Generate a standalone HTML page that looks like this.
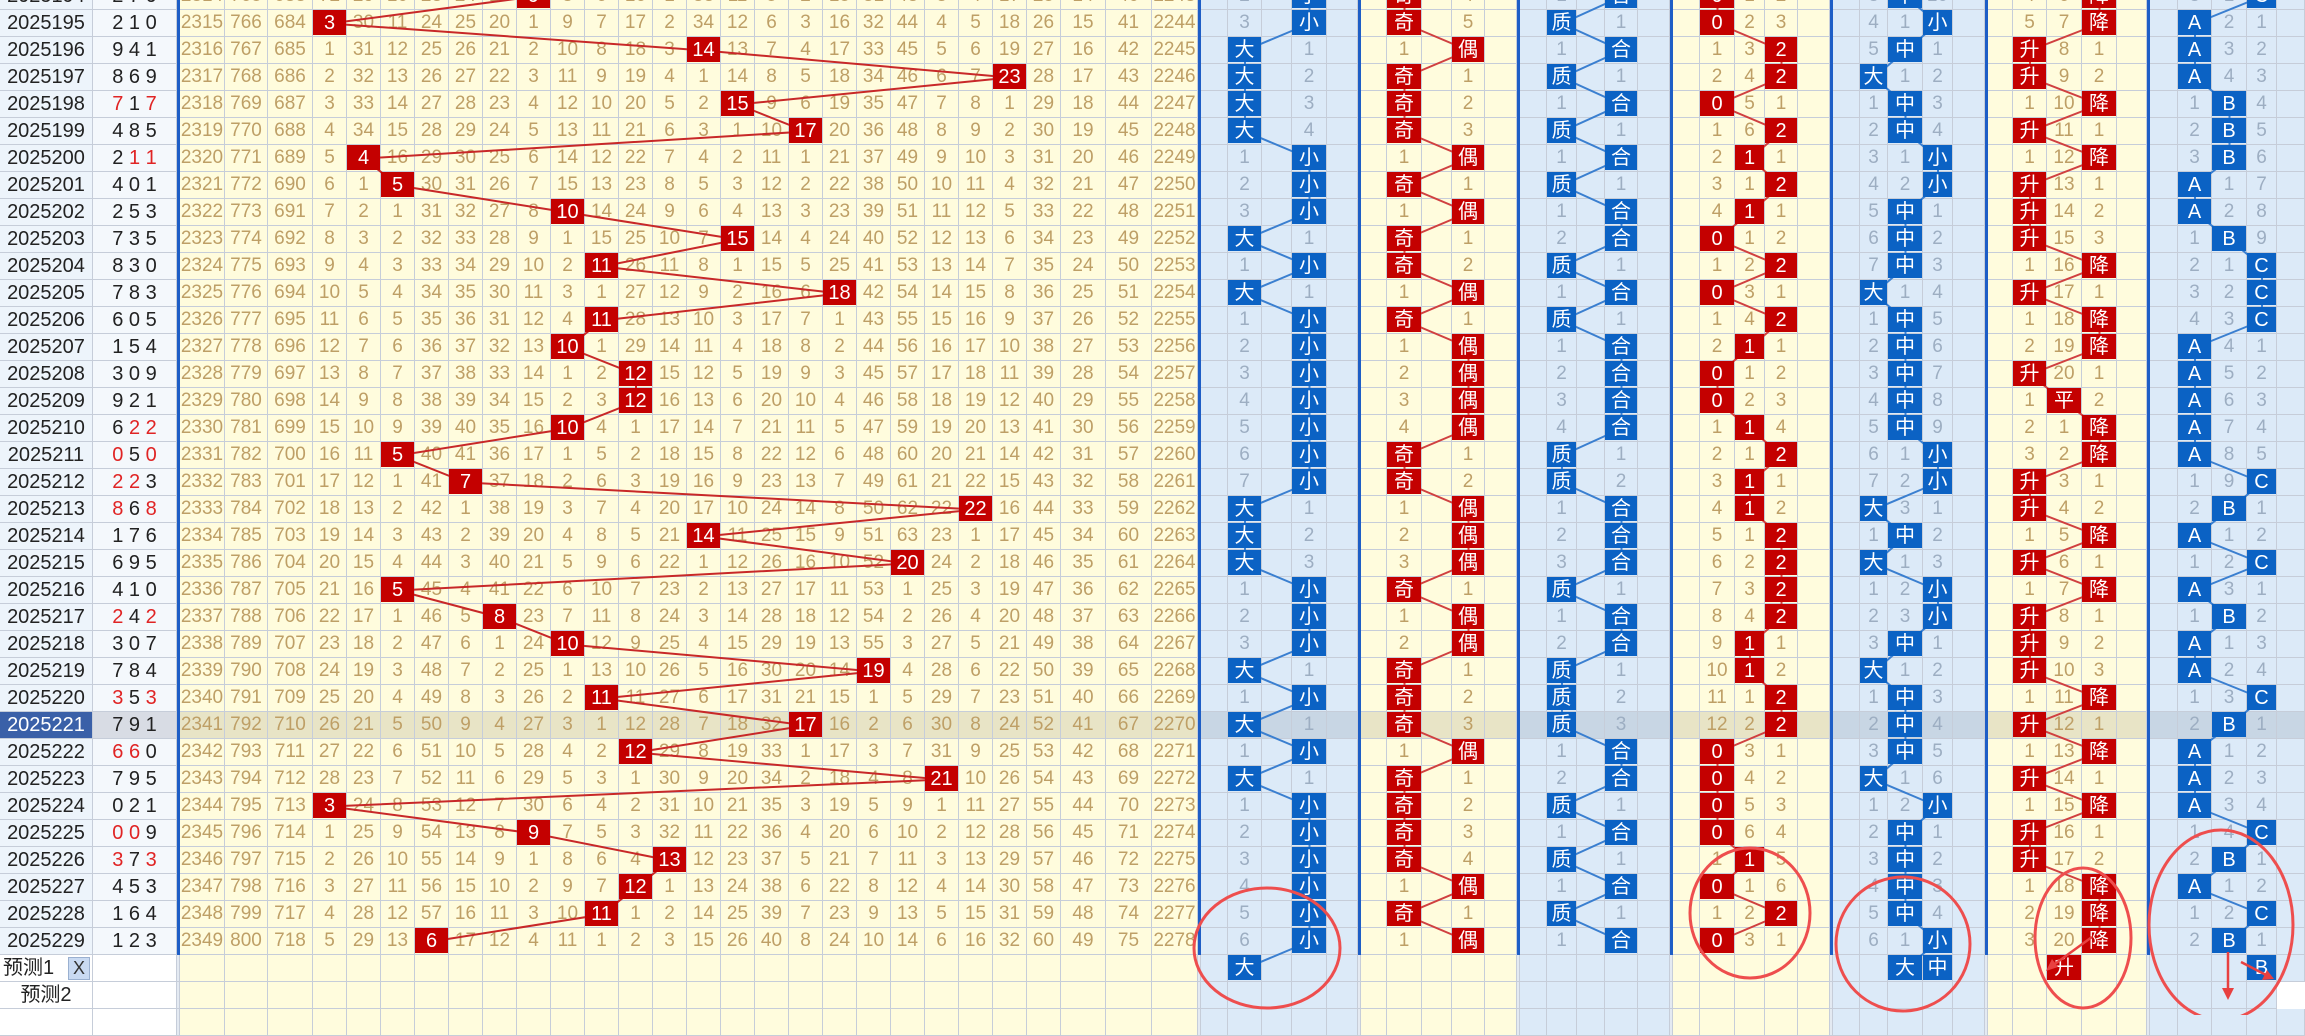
<!DOCTYPE html>
<html><head><meta charset="utf-8">
<style>
body{margin:0;width:2305px;height:1015px;overflow:hidden;position:relative;background:#fff;font-family:"Liberation Sans","Noto Sans CJK SC",sans-serif}
#g{position:absolute;left:0;top:-17px}
.r{display:grid;grid-template-columns:93px 84px 3px 45px 43px 45px repeat(22,34px) 45px 46px 46px 3px 27px 34px 30px 35px 31px 3px 26px 35px 30px 33px 32px 3px 27px 30px 28px 33px 32px 3px 27px 35px 30px 33px 32px 3px 27px 28px 35px 30px 32px 3px 25px 34px 35px 35px 30px 3px 28px 34px 35px 30px 28px;height:27px}
.r i{font-style:normal;box-sizing:border-box;border-right:1px solid #C6CDD9;border-bottom:1px solid #C6CDD9;text-align:center;line-height:26px;font-size:19px;color:#BE9F66;background:#FFFCDD;position:relative;white-space:nowrap}
.r i:nth-child(1){background:#EDF4FB;color:#222;font-size:20px}
.r i:nth-child(2){background:#F4F8FC;color:#222;font-size:20px}
.r i:nth-child(n+33):nth-child(-n+37),.r i:nth-child(n+45):nth-child(-n+49),.r i:nth-child(n+57):nth-child(-n+61),.r i:nth-child(n+69){background:#DCEAF8;color:#9DAEC2}
.hl i{background:#E8E4C6}
.hl i:nth-child(n+33):nth-child(-n+37),.hl i:nth-child(n+45):nth-child(-n+49),.hl i:nth-child(n+57):nth-child(-n+61),.hl i:nth-child(n+69){background:#C8D6E4}
.r.hl i:nth-child(1){background:#3A60A8;color:#fff}
.r.hl i:nth-child(2){background:#D8DCE4}
.r i:nth-child(3),.r i:nth-child(32),.r i:nth-child(38),.r i:nth-child(44),.r i:nth-child(50),.r i:nth-child(56),.r i:nth-child(62),.r i:nth-child(68){background:#1E5EC6;border:0}
.r.p i:nth-child(1),.r.p i:nth-child(2){background:#fff}
.r.p i:nth-child(3),.r.p i:nth-child(32),.r.p i:nth-child(38),.r.p i:nth-child(44),.r.p i:nth-child(50),.r.p i:nth-child(56),.r.p i:nth-child(62),.r.p i:nth-child(68){background:#E4EAF2;border-right:1px solid #C6CDD9;border-bottom:1px solid #C6CDD9}
b,em{position:absolute;left:0;top:0;right:0;bottom:1px;z-index:2;color:#fff;font-style:normal;font-weight:normal;font-size:20px;line-height:26px;text-align:center}
b{background:#C40000}
em{background:#0B62C4}
u{text-decoration:none;color:#E02424}
.x{position:absolute;left:68px;top:2px;width:20px;height:21px;background:#C9DAF2;border:1px solid #9AB0D0;line-height:20px;text-align:center;color:#333;font-size:18px}
svg{position:absolute;left:0;top:0}
</style></head><body>
<div id="g">
<div class=r><i>2025194</i><i>2 7 0</i><i></i><i>2314</i><i>765</i><i>683</i><i>72</i><i>29</i><i>10</i><i>23</i><i>24</i><i>19</i><i><b>9</b></i><i>8</i><i>6</i><i>16</i><i>1</i><i>33</i><i>11</i><i>5</i><i>2</i><i>15</i><i>31</i><i>43</i><i>3</i><i>4</i><i>17</i><i>25</i><i>14</i><i>40</i><i>2243</i><i></i><i></i><i>2</i><i></i><i><em>小</em></i><i></i><i></i><i></i><i><b>奇</b></i><i></i><i>4</i><i></i><i></i><i></i><i>1</i><i></i><i><em>合</em></i><i></i><i></i><i></i><i><b>0</b></i><i>1</i><i>2</i><i></i><i></i><i></i><i>3</i><i><em>中</em></i><i>10</i><i></i><i></i><i></i><i>4</i><i>6</i><i><b>降</b></i><i></i><i></i><i></i><i>3</i><i>1</i><i><em>C</em></i><i></i></div>
<div class=r><i>2025195</i><i>2 1 0</i><i></i><i>2315</i><i>766</i><i>684</i><i><b>3</b></i><i>30</i><i>11</i><i>24</i><i>25</i><i>20</i><i>1</i><i>9</i><i>7</i><i>17</i><i>2</i><i>34</i><i>12</i><i>6</i><i>3</i><i>16</i><i>32</i><i>44</i><i>4</i><i>5</i><i>18</i><i>26</i><i>15</i><i>41</i><i>2244</i><i></i><i></i><i>3</i><i></i><i><em>小</em></i><i></i><i></i><i></i><i><b>奇</b></i><i></i><i>5</i><i></i><i></i><i></i><i><em>质</em></i><i></i><i>1</i><i></i><i></i><i></i><i><b>0</b></i><i>2</i><i>3</i><i></i><i></i><i></i><i>4</i><i>1</i><i><em>小</em></i><i></i><i></i><i></i><i>5</i><i>7</i><i><b>降</b></i><i></i><i></i><i></i><i><em>A</em></i><i>2</i><i>1</i><i></i></div>
<div class=r><i>2025196</i><i>9 4 1</i><i></i><i>2316</i><i>767</i><i>685</i><i>1</i><i>31</i><i>12</i><i>25</i><i>26</i><i>21</i><i>2</i><i>10</i><i>8</i><i>18</i><i>3</i><i><b>14</b></i><i>13</i><i>7</i><i>4</i><i>17</i><i>33</i><i>45</i><i>5</i><i>6</i><i>19</i><i>27</i><i>16</i><i>42</i><i>2245</i><i></i><i></i><i><em>大</em></i><i></i><i>1</i><i></i><i></i><i></i><i>1</i><i></i><i><b>偶</b></i><i></i><i></i><i></i><i>1</i><i></i><i><em>合</em></i><i></i><i></i><i></i><i>1</i><i>3</i><i><b>2</b></i><i></i><i></i><i></i><i>5</i><i><em>中</em></i><i>1</i><i></i><i></i><i></i><i><b>升</b></i><i>8</i><i>1</i><i></i><i></i><i></i><i><em>A</em></i><i>3</i><i>2</i><i></i></div>
<div class=r><i>2025197</i><i>8 6 9</i><i></i><i>2317</i><i>768</i><i>686</i><i>2</i><i>32</i><i>13</i><i>26</i><i>27</i><i>22</i><i>3</i><i>11</i><i>9</i><i>19</i><i>4</i><i>1</i><i>14</i><i>8</i><i>5</i><i>18</i><i>34</i><i>46</i><i>6</i><i>7</i><i><b>23</b></i><i>28</i><i>17</i><i>43</i><i>2246</i><i></i><i></i><i><em>大</em></i><i></i><i>2</i><i></i><i></i><i></i><i><b>奇</b></i><i></i><i>1</i><i></i><i></i><i></i><i><em>质</em></i><i></i><i>1</i><i></i><i></i><i></i><i>2</i><i>4</i><i><b>2</b></i><i></i><i></i><i></i><i><em>大</em></i><i>1</i><i>2</i><i></i><i></i><i></i><i><b>升</b></i><i>9</i><i>2</i><i></i><i></i><i></i><i><em>A</em></i><i>4</i><i>3</i><i></i></div>
<div class=r><i>2025198</i><i><u>7</u> 1 <u>7</u></i><i></i><i>2318</i><i>769</i><i>687</i><i>3</i><i>33</i><i>14</i><i>27</i><i>28</i><i>23</i><i>4</i><i>12</i><i>10</i><i>20</i><i>5</i><i>2</i><i><b>15</b></i><i>9</i><i>6</i><i>19</i><i>35</i><i>47</i><i>7</i><i>8</i><i>1</i><i>29</i><i>18</i><i>44</i><i>2247</i><i></i><i></i><i><em>大</em></i><i></i><i>3</i><i></i><i></i><i></i><i><b>奇</b></i><i></i><i>2</i><i></i><i></i><i></i><i>1</i><i></i><i><em>合</em></i><i></i><i></i><i></i><i><b>0</b></i><i>5</i><i>1</i><i></i><i></i><i></i><i>1</i><i><em>中</em></i><i>3</i><i></i><i></i><i></i><i>1</i><i>10</i><i><b>降</b></i><i></i><i></i><i></i><i>1</i><i><em>B</em></i><i>4</i><i></i></div>
<div class=r><i>2025199</i><i>4 8 5</i><i></i><i>2319</i><i>770</i><i>688</i><i>4</i><i>34</i><i>15</i><i>28</i><i>29</i><i>24</i><i>5</i><i>13</i><i>11</i><i>21</i><i>6</i><i>3</i><i>1</i><i>10</i><i><b>17</b></i><i>20</i><i>36</i><i>48</i><i>8</i><i>9</i><i>2</i><i>30</i><i>19</i><i>45</i><i>2248</i><i></i><i></i><i><em>大</em></i><i></i><i>4</i><i></i><i></i><i></i><i><b>奇</b></i><i></i><i>3</i><i></i><i></i><i></i><i><em>质</em></i><i></i><i>1</i><i></i><i></i><i></i><i>1</i><i>6</i><i><b>2</b></i><i></i><i></i><i></i><i>2</i><i><em>中</em></i><i>4</i><i></i><i></i><i></i><i><b>升</b></i><i>11</i><i>1</i><i></i><i></i><i></i><i>2</i><i><em>B</em></i><i>5</i><i></i></div>
<div class=r><i>2025200</i><i>2 <u>1</u> <u>1</u></i><i></i><i>2320</i><i>771</i><i>689</i><i>5</i><i><b>4</b></i><i>16</i><i>29</i><i>30</i><i>25</i><i>6</i><i>14</i><i>12</i><i>22</i><i>7</i><i>4</i><i>2</i><i>11</i><i>1</i><i>21</i><i>37</i><i>49</i><i>9</i><i>10</i><i>3</i><i>31</i><i>20</i><i>46</i><i>2249</i><i></i><i></i><i>1</i><i></i><i><em>小</em></i><i></i><i></i><i></i><i>1</i><i></i><i><b>偶</b></i><i></i><i></i><i></i><i>1</i><i></i><i><em>合</em></i><i></i><i></i><i></i><i>2</i><i><b>1</b></i><i>1</i><i></i><i></i><i></i><i>3</i><i>1</i><i><em>小</em></i><i></i><i></i><i></i><i>1</i><i>12</i><i><b>降</b></i><i></i><i></i><i></i><i>3</i><i><em>B</em></i><i>6</i><i></i></div>
<div class=r><i>2025201</i><i>4 0 1</i><i></i><i>2321</i><i>772</i><i>690</i><i>6</i><i>1</i><i><b>5</b></i><i>30</i><i>31</i><i>26</i><i>7</i><i>15</i><i>13</i><i>23</i><i>8</i><i>5</i><i>3</i><i>12</i><i>2</i><i>22</i><i>38</i><i>50</i><i>10</i><i>11</i><i>4</i><i>32</i><i>21</i><i>47</i><i>2250</i><i></i><i></i><i>2</i><i></i><i><em>小</em></i><i></i><i></i><i></i><i><b>奇</b></i><i></i><i>1</i><i></i><i></i><i></i><i><em>质</em></i><i></i><i>1</i><i></i><i></i><i></i><i>3</i><i>1</i><i><b>2</b></i><i></i><i></i><i></i><i>4</i><i>2</i><i><em>小</em></i><i></i><i></i><i></i><i><b>升</b></i><i>13</i><i>1</i><i></i><i></i><i></i><i><em>A</em></i><i>1</i><i>7</i><i></i></div>
<div class=r><i>2025202</i><i>2 5 3</i><i></i><i>2322</i><i>773</i><i>691</i><i>7</i><i>2</i><i>1</i><i>31</i><i>32</i><i>27</i><i>8</i><i><b>10</b></i><i>14</i><i>24</i><i>9</i><i>6</i><i>4</i><i>13</i><i>3</i><i>23</i><i>39</i><i>51</i><i>11</i><i>12</i><i>5</i><i>33</i><i>22</i><i>48</i><i>2251</i><i></i><i></i><i>3</i><i></i><i><em>小</em></i><i></i><i></i><i></i><i>1</i><i></i><i><b>偶</b></i><i></i><i></i><i></i><i>1</i><i></i><i><em>合</em></i><i></i><i></i><i></i><i>4</i><i><b>1</b></i><i>1</i><i></i><i></i><i></i><i>5</i><i><em>中</em></i><i>1</i><i></i><i></i><i></i><i><b>升</b></i><i>14</i><i>2</i><i></i><i></i><i></i><i><em>A</em></i><i>2</i><i>8</i><i></i></div>
<div class=r><i>2025203</i><i>7 3 5</i><i></i><i>2323</i><i>774</i><i>692</i><i>8</i><i>3</i><i>2</i><i>32</i><i>33</i><i>28</i><i>9</i><i>1</i><i>15</i><i>25</i><i>10</i><i>7</i><i><b>15</b></i><i>14</i><i>4</i><i>24</i><i>40</i><i>52</i><i>12</i><i>13</i><i>6</i><i>34</i><i>23</i><i>49</i><i>2252</i><i></i><i></i><i><em>大</em></i><i></i><i>1</i><i></i><i></i><i></i><i><b>奇</b></i><i></i><i>1</i><i></i><i></i><i></i><i>2</i><i></i><i><em>合</em></i><i></i><i></i><i></i><i><b>0</b></i><i>1</i><i>2</i><i></i><i></i><i></i><i>6</i><i><em>中</em></i><i>2</i><i></i><i></i><i></i><i><b>升</b></i><i>15</i><i>3</i><i></i><i></i><i></i><i>1</i><i><em>B</em></i><i>9</i><i></i></div>
<div class=r><i>2025204</i><i>8 3 0</i><i></i><i>2324</i><i>775</i><i>693</i><i>9</i><i>4</i><i>3</i><i>33</i><i>34</i><i>29</i><i>10</i><i>2</i><i><b>11</b></i><i>26</i><i>11</i><i>8</i><i>1</i><i>15</i><i>5</i><i>25</i><i>41</i><i>53</i><i>13</i><i>14</i><i>7</i><i>35</i><i>24</i><i>50</i><i>2253</i><i></i><i></i><i>1</i><i></i><i><em>小</em></i><i></i><i></i><i></i><i><b>奇</b></i><i></i><i>2</i><i></i><i></i><i></i><i><em>质</em></i><i></i><i>1</i><i></i><i></i><i></i><i>1</i><i>2</i><i><b>2</b></i><i></i><i></i><i></i><i>7</i><i><em>中</em></i><i>3</i><i></i><i></i><i></i><i>1</i><i>16</i><i><b>降</b></i><i></i><i></i><i></i><i>2</i><i>1</i><i><em>C</em></i><i></i></div>
<div class=r><i>2025205</i><i>7 8 3</i><i></i><i>2325</i><i>776</i><i>694</i><i>10</i><i>5</i><i>4</i><i>34</i><i>35</i><i>30</i><i>11</i><i>3</i><i>1</i><i>27</i><i>12</i><i>9</i><i>2</i><i>16</i><i>6</i><i><b>18</b></i><i>42</i><i>54</i><i>14</i><i>15</i><i>8</i><i>36</i><i>25</i><i>51</i><i>2254</i><i></i><i></i><i><em>大</em></i><i></i><i>1</i><i></i><i></i><i></i><i>1</i><i></i><i><b>偶</b></i><i></i><i></i><i></i><i>1</i><i></i><i><em>合</em></i><i></i><i></i><i></i><i><b>0</b></i><i>3</i><i>1</i><i></i><i></i><i></i><i><em>大</em></i><i>1</i><i>4</i><i></i><i></i><i></i><i><b>升</b></i><i>17</i><i>1</i><i></i><i></i><i></i><i>3</i><i>2</i><i><em>C</em></i><i></i></div>
<div class=r><i>2025206</i><i>6 0 5</i><i></i><i>2326</i><i>777</i><i>695</i><i>11</i><i>6</i><i>5</i><i>35</i><i>36</i><i>31</i><i>12</i><i>4</i><i><b>11</b></i><i>28</i><i>13</i><i>10</i><i>3</i><i>17</i><i>7</i><i>1</i><i>43</i><i>55</i><i>15</i><i>16</i><i>9</i><i>37</i><i>26</i><i>52</i><i>2255</i><i></i><i></i><i>1</i><i></i><i><em>小</em></i><i></i><i></i><i></i><i><b>奇</b></i><i></i><i>1</i><i></i><i></i><i></i><i><em>质</em></i><i></i><i>1</i><i></i><i></i><i></i><i>1</i><i>4</i><i><b>2</b></i><i></i><i></i><i></i><i>1</i><i><em>中</em></i><i>5</i><i></i><i></i><i></i><i>1</i><i>18</i><i><b>降</b></i><i></i><i></i><i></i><i>4</i><i>3</i><i><em>C</em></i><i></i></div>
<div class=r><i>2025207</i><i>1 5 4</i><i></i><i>2327</i><i>778</i><i>696</i><i>12</i><i>7</i><i>6</i><i>36</i><i>37</i><i>32</i><i>13</i><i><b>10</b></i><i>1</i><i>29</i><i>14</i><i>11</i><i>4</i><i>18</i><i>8</i><i>2</i><i>44</i><i>56</i><i>16</i><i>17</i><i>10</i><i>38</i><i>27</i><i>53</i><i>2256</i><i></i><i></i><i>2</i><i></i><i><em>小</em></i><i></i><i></i><i></i><i>1</i><i></i><i><b>偶</b></i><i></i><i></i><i></i><i>1</i><i></i><i><em>合</em></i><i></i><i></i><i></i><i>2</i><i><b>1</b></i><i>1</i><i></i><i></i><i></i><i>2</i><i><em>中</em></i><i>6</i><i></i><i></i><i></i><i>2</i><i>19</i><i><b>降</b></i><i></i><i></i><i></i><i><em>A</em></i><i>4</i><i>1</i><i></i></div>
<div class=r><i>2025208</i><i>3 0 9</i><i></i><i>2328</i><i>779</i><i>697</i><i>13</i><i>8</i><i>7</i><i>37</i><i>38</i><i>33</i><i>14</i><i>1</i><i>2</i><i><b>12</b></i><i>15</i><i>12</i><i>5</i><i>19</i><i>9</i><i>3</i><i>45</i><i>57</i><i>17</i><i>18</i><i>11</i><i>39</i><i>28</i><i>54</i><i>2257</i><i></i><i></i><i>3</i><i></i><i><em>小</em></i><i></i><i></i><i></i><i>2</i><i></i><i><b>偶</b></i><i></i><i></i><i></i><i>2</i><i></i><i><em>合</em></i><i></i><i></i><i></i><i><b>0</b></i><i>1</i><i>2</i><i></i><i></i><i></i><i>3</i><i><em>中</em></i><i>7</i><i></i><i></i><i></i><i><b>升</b></i><i>20</i><i>1</i><i></i><i></i><i></i><i><em>A</em></i><i>5</i><i>2</i><i></i></div>
<div class=r><i>2025209</i><i>9 2 1</i><i></i><i>2329</i><i>780</i><i>698</i><i>14</i><i>9</i><i>8</i><i>38</i><i>39</i><i>34</i><i>15</i><i>2</i><i>3</i><i><b>12</b></i><i>16</i><i>13</i><i>6</i><i>20</i><i>10</i><i>4</i><i>46</i><i>58</i><i>18</i><i>19</i><i>12</i><i>40</i><i>29</i><i>55</i><i>2258</i><i></i><i></i><i>4</i><i></i><i><em>小</em></i><i></i><i></i><i></i><i>3</i><i></i><i><b>偶</b></i><i></i><i></i><i></i><i>3</i><i></i><i><em>合</em></i><i></i><i></i><i></i><i><b>0</b></i><i>2</i><i>3</i><i></i><i></i><i></i><i>4</i><i><em>中</em></i><i>8</i><i></i><i></i><i></i><i>1</i><i><b>平</b></i><i>2</i><i></i><i></i><i></i><i><em>A</em></i><i>6</i><i>3</i><i></i></div>
<div class=r><i>2025210</i><i>6 <u>2</u> <u>2</u></i><i></i><i>2330</i><i>781</i><i>699</i><i>15</i><i>10</i><i>9</i><i>39</i><i>40</i><i>35</i><i>16</i><i><b>10</b></i><i>4</i><i>1</i><i>17</i><i>14</i><i>7</i><i>21</i><i>11</i><i>5</i><i>47</i><i>59</i><i>19</i><i>20</i><i>13</i><i>41</i><i>30</i><i>56</i><i>2259</i><i></i><i></i><i>5</i><i></i><i><em>小</em></i><i></i><i></i><i></i><i>4</i><i></i><i><b>偶</b></i><i></i><i></i><i></i><i>4</i><i></i><i><em>合</em></i><i></i><i></i><i></i><i>1</i><i><b>1</b></i><i>4</i><i></i><i></i><i></i><i>5</i><i><em>中</em></i><i>9</i><i></i><i></i><i></i><i>2</i><i>1</i><i><b>降</b></i><i></i><i></i><i></i><i><em>A</em></i><i>7</i><i>4</i><i></i></div>
<div class=r><i>2025211</i><i><u>0</u> 5 <u>0</u></i><i></i><i>2331</i><i>782</i><i>700</i><i>16</i><i>11</i><i><b>5</b></i><i>40</i><i>41</i><i>36</i><i>17</i><i>1</i><i>5</i><i>2</i><i>18</i><i>15</i><i>8</i><i>22</i><i>12</i><i>6</i><i>48</i><i>60</i><i>20</i><i>21</i><i>14</i><i>42</i><i>31</i><i>57</i><i>2260</i><i></i><i></i><i>6</i><i></i><i><em>小</em></i><i></i><i></i><i></i><i><b>奇</b></i><i></i><i>1</i><i></i><i></i><i></i><i><em>质</em></i><i></i><i>1</i><i></i><i></i><i></i><i>2</i><i>1</i><i><b>2</b></i><i></i><i></i><i></i><i>6</i><i>1</i><i><em>小</em></i><i></i><i></i><i></i><i>3</i><i>2</i><i><b>降</b></i><i></i><i></i><i></i><i><em>A</em></i><i>8</i><i>5</i><i></i></div>
<div class=r><i>2025212</i><i><u>2</u> <u>2</u> 3</i><i></i><i>2332</i><i>783</i><i>701</i><i>17</i><i>12</i><i>1</i><i>41</i><i><b>7</b></i><i>37</i><i>18</i><i>2</i><i>6</i><i>3</i><i>19</i><i>16</i><i>9</i><i>23</i><i>13</i><i>7</i><i>49</i><i>61</i><i>21</i><i>22</i><i>15</i><i>43</i><i>32</i><i>58</i><i>2261</i><i></i><i></i><i>7</i><i></i><i><em>小</em></i><i></i><i></i><i></i><i><b>奇</b></i><i></i><i>2</i><i></i><i></i><i></i><i><em>质</em></i><i></i><i>2</i><i></i><i></i><i></i><i>3</i><i><b>1</b></i><i>1</i><i></i><i></i><i></i><i>7</i><i>2</i><i><em>小</em></i><i></i><i></i><i></i><i><b>升</b></i><i>3</i><i>1</i><i></i><i></i><i></i><i>1</i><i>9</i><i><em>C</em></i><i></i></div>
<div class=r><i>2025213</i><i><u>8</u> 6 <u>8</u></i><i></i><i>2333</i><i>784</i><i>702</i><i>18</i><i>13</i><i>2</i><i>42</i><i>1</i><i>38</i><i>19</i><i>3</i><i>7</i><i>4</i><i>20</i><i>17</i><i>10</i><i>24</i><i>14</i><i>8</i><i>50</i><i>62</i><i>22</i><i><b>22</b></i><i>16</i><i>44</i><i>33</i><i>59</i><i>2262</i><i></i><i></i><i><em>大</em></i><i></i><i>1</i><i></i><i></i><i></i><i>1</i><i></i><i><b>偶</b></i><i></i><i></i><i></i><i>1</i><i></i><i><em>合</em></i><i></i><i></i><i></i><i>4</i><i><b>1</b></i><i>2</i><i></i><i></i><i></i><i><em>大</em></i><i>3</i><i>1</i><i></i><i></i><i></i><i><b>升</b></i><i>4</i><i>2</i><i></i><i></i><i></i><i>2</i><i><em>B</em></i><i>1</i><i></i></div>
<div class=r><i>2025214</i><i>1 7 6</i><i></i><i>2334</i><i>785</i><i>703</i><i>19</i><i>14</i><i>3</i><i>43</i><i>2</i><i>39</i><i>20</i><i>4</i><i>8</i><i>5</i><i>21</i><i><b>14</b></i><i>11</i><i>25</i><i>15</i><i>9</i><i>51</i><i>63</i><i>23</i><i>1</i><i>17</i><i>45</i><i>34</i><i>60</i><i>2263</i><i></i><i></i><i><em>大</em></i><i></i><i>2</i><i></i><i></i><i></i><i>2</i><i></i><i><b>偶</b></i><i></i><i></i><i></i><i>2</i><i></i><i><em>合</em></i><i></i><i></i><i></i><i>5</i><i>1</i><i><b>2</b></i><i></i><i></i><i></i><i>1</i><i><em>中</em></i><i>2</i><i></i><i></i><i></i><i>1</i><i>5</i><i><b>降</b></i><i></i><i></i><i></i><i><em>A</em></i><i>1</i><i>2</i><i></i></div>
<div class=r><i>2025215</i><i>6 9 5</i><i></i><i>2335</i><i>786</i><i>704</i><i>20</i><i>15</i><i>4</i><i>44</i><i>3</i><i>40</i><i>21</i><i>5</i><i>9</i><i>6</i><i>22</i><i>1</i><i>12</i><i>26</i><i>16</i><i>10</i><i>52</i><i><b>20</b></i><i>24</i><i>2</i><i>18</i><i>46</i><i>35</i><i>61</i><i>2264</i><i></i><i></i><i><em>大</em></i><i></i><i>3</i><i></i><i></i><i></i><i>3</i><i></i><i><b>偶</b></i><i></i><i></i><i></i><i>3</i><i></i><i><em>合</em></i><i></i><i></i><i></i><i>6</i><i>2</i><i><b>2</b></i><i></i><i></i><i></i><i><em>大</em></i><i>1</i><i>3</i><i></i><i></i><i></i><i><b>升</b></i><i>6</i><i>1</i><i></i><i></i><i></i><i>1</i><i>2</i><i><em>C</em></i><i></i></div>
<div class=r><i>2025216</i><i>4 1 0</i><i></i><i>2336</i><i>787</i><i>705</i><i>21</i><i>16</i><i><b>5</b></i><i>45</i><i>4</i><i>41</i><i>22</i><i>6</i><i>10</i><i>7</i><i>23</i><i>2</i><i>13</i><i>27</i><i>17</i><i>11</i><i>53</i><i>1</i><i>25</i><i>3</i><i>19</i><i>47</i><i>36</i><i>62</i><i>2265</i><i></i><i></i><i>1</i><i></i><i><em>小</em></i><i></i><i></i><i></i><i><b>奇</b></i><i></i><i>1</i><i></i><i></i><i></i><i><em>质</em></i><i></i><i>1</i><i></i><i></i><i></i><i>7</i><i>3</i><i><b>2</b></i><i></i><i></i><i></i><i>1</i><i>2</i><i><em>小</em></i><i></i><i></i><i></i><i>1</i><i>7</i><i><b>降</b></i><i></i><i></i><i></i><i><em>A</em></i><i>3</i><i>1</i><i></i></div>
<div class=r><i>2025217</i><i><u>2</u> 4 <u>2</u></i><i></i><i>2337</i><i>788</i><i>706</i><i>22</i><i>17</i><i>1</i><i>46</i><i>5</i><i><b>8</b></i><i>23</i><i>7</i><i>11</i><i>8</i><i>24</i><i>3</i><i>14</i><i>28</i><i>18</i><i>12</i><i>54</i><i>2</i><i>26</i><i>4</i><i>20</i><i>48</i><i>37</i><i>63</i><i>2266</i><i></i><i></i><i>2</i><i></i><i><em>小</em></i><i></i><i></i><i></i><i>1</i><i></i><i><b>偶</b></i><i></i><i></i><i></i><i>1</i><i></i><i><em>合</em></i><i></i><i></i><i></i><i>8</i><i>4</i><i><b>2</b></i><i></i><i></i><i></i><i>2</i><i>3</i><i><em>小</em></i><i></i><i></i><i></i><i><b>升</b></i><i>8</i><i>1</i><i></i><i></i><i></i><i>1</i><i><em>B</em></i><i>2</i><i></i></div>
<div class=r><i>2025218</i><i>3 0 7</i><i></i><i>2338</i><i>789</i><i>707</i><i>23</i><i>18</i><i>2</i><i>47</i><i>6</i><i>1</i><i>24</i><i><b>10</b></i><i>12</i><i>9</i><i>25</i><i>4</i><i>15</i><i>29</i><i>19</i><i>13</i><i>55</i><i>3</i><i>27</i><i>5</i><i>21</i><i>49</i><i>38</i><i>64</i><i>2267</i><i></i><i></i><i>3</i><i></i><i><em>小</em></i><i></i><i></i><i></i><i>2</i><i></i><i><b>偶</b></i><i></i><i></i><i></i><i>2</i><i></i><i><em>合</em></i><i></i><i></i><i></i><i>9</i><i><b>1</b></i><i>1</i><i></i><i></i><i></i><i>3</i><i><em>中</em></i><i>1</i><i></i><i></i><i></i><i><b>升</b></i><i>9</i><i>2</i><i></i><i></i><i></i><i><em>A</em></i><i>1</i><i>3</i><i></i></div>
<div class=r><i>2025219</i><i>7 8 4</i><i></i><i>2339</i><i>790</i><i>708</i><i>24</i><i>19</i><i>3</i><i>48</i><i>7</i><i>2</i><i>25</i><i>1</i><i>13</i><i>10</i><i>26</i><i>5</i><i>16</i><i>30</i><i>20</i><i>14</i><i><b>19</b></i><i>4</i><i>28</i><i>6</i><i>22</i><i>50</i><i>39</i><i>65</i><i>2268</i><i></i><i></i><i><em>大</em></i><i></i><i>1</i><i></i><i></i><i></i><i><b>奇</b></i><i></i><i>1</i><i></i><i></i><i></i><i><em>质</em></i><i></i><i>1</i><i></i><i></i><i></i><i>10</i><i><b>1</b></i><i>2</i><i></i><i></i><i></i><i><em>大</em></i><i>1</i><i>2</i><i></i><i></i><i></i><i><b>升</b></i><i>10</i><i>3</i><i></i><i></i><i></i><i><em>A</em></i><i>2</i><i>4</i><i></i></div>
<div class=r><i>2025220</i><i><u>3</u> 5 <u>3</u></i><i></i><i>2340</i><i>791</i><i>709</i><i>25</i><i>20</i><i>4</i><i>49</i><i>8</i><i>3</i><i>26</i><i>2</i><i><b>11</b></i><i>11</i><i>27</i><i>6</i><i>17</i><i>31</i><i>21</i><i>15</i><i>1</i><i>5</i><i>29</i><i>7</i><i>23</i><i>51</i><i>40</i><i>66</i><i>2269</i><i></i><i></i><i>1</i><i></i><i><em>小</em></i><i></i><i></i><i></i><i><b>奇</b></i><i></i><i>2</i><i></i><i></i><i></i><i><em>质</em></i><i></i><i>2</i><i></i><i></i><i></i><i>11</i><i>1</i><i><b>2</b></i><i></i><i></i><i></i><i>1</i><i><em>中</em></i><i>3</i><i></i><i></i><i></i><i>1</i><i>11</i><i><b>降</b></i><i></i><i></i><i></i><i>1</i><i>3</i><i><em>C</em></i><i></i></div>
<div class="r hl"><i>2025221</i><i>7 9 1</i><i></i><i>2341</i><i>792</i><i>710</i><i>26</i><i>21</i><i>5</i><i>50</i><i>9</i><i>4</i><i>27</i><i>3</i><i>1</i><i>12</i><i>28</i><i>7</i><i>18</i><i>32</i><i><b>17</b></i><i>16</i><i>2</i><i>6</i><i>30</i><i>8</i><i>24</i><i>52</i><i>41</i><i>67</i><i>2270</i><i></i><i></i><i><em>大</em></i><i></i><i>1</i><i></i><i></i><i></i><i><b>奇</b></i><i></i><i>3</i><i></i><i></i><i></i><i><em>质</em></i><i></i><i>3</i><i></i><i></i><i></i><i>12</i><i>2</i><i><b>2</b></i><i></i><i></i><i></i><i>2</i><i><em>中</em></i><i>4</i><i></i><i></i><i></i><i><b>升</b></i><i>12</i><i>1</i><i></i><i></i><i></i><i>2</i><i><em>B</em></i><i>1</i><i></i></div>
<div class=r><i>2025222</i><i><u>6</u> <u>6</u> 0</i><i></i><i>2342</i><i>793</i><i>711</i><i>27</i><i>22</i><i>6</i><i>51</i><i>10</i><i>5</i><i>28</i><i>4</i><i>2</i><i><b>12</b></i><i>29</i><i>8</i><i>19</i><i>33</i><i>1</i><i>17</i><i>3</i><i>7</i><i>31</i><i>9</i><i>25</i><i>53</i><i>42</i><i>68</i><i>2271</i><i></i><i></i><i>1</i><i></i><i><em>小</em></i><i></i><i></i><i></i><i>1</i><i></i><i><b>偶</b></i><i></i><i></i><i></i><i>1</i><i></i><i><em>合</em></i><i></i><i></i><i></i><i><b>0</b></i><i>3</i><i>1</i><i></i><i></i><i></i><i>3</i><i><em>中</em></i><i>5</i><i></i><i></i><i></i><i>1</i><i>13</i><i><b>降</b></i><i></i><i></i><i></i><i><em>A</em></i><i>1</i><i>2</i><i></i></div>
<div class=r><i>2025223</i><i>7 9 5</i><i></i><i>2343</i><i>794</i><i>712</i><i>28</i><i>23</i><i>7</i><i>52</i><i>11</i><i>6</i><i>29</i><i>5</i><i>3</i><i>1</i><i>30</i><i>9</i><i>20</i><i>34</i><i>2</i><i>18</i><i>4</i><i>8</i><i><b>21</b></i><i>10</i><i>26</i><i>54</i><i>43</i><i>69</i><i>2272</i><i></i><i></i><i><em>大</em></i><i></i><i>1</i><i></i><i></i><i></i><i><b>奇</b></i><i></i><i>1</i><i></i><i></i><i></i><i>2</i><i></i><i><em>合</em></i><i></i><i></i><i></i><i><b>0</b></i><i>4</i><i>2</i><i></i><i></i><i></i><i><em>大</em></i><i>1</i><i>6</i><i></i><i></i><i></i><i><b>升</b></i><i>14</i><i>1</i><i></i><i></i><i></i><i><em>A</em></i><i>2</i><i>3</i><i></i></div>
<div class=r><i>2025224</i><i>0 2 1</i><i></i><i>2344</i><i>795</i><i>713</i><i><b>3</b></i><i>24</i><i>8</i><i>53</i><i>12</i><i>7</i><i>30</i><i>6</i><i>4</i><i>2</i><i>31</i><i>10</i><i>21</i><i>35</i><i>3</i><i>19</i><i>5</i><i>9</i><i>1</i><i>11</i><i>27</i><i>55</i><i>44</i><i>70</i><i>2273</i><i></i><i></i><i>1</i><i></i><i><em>小</em></i><i></i><i></i><i></i><i><b>奇</b></i><i></i><i>2</i><i></i><i></i><i></i><i><em>质</em></i><i></i><i>1</i><i></i><i></i><i></i><i><b>0</b></i><i>5</i><i>3</i><i></i><i></i><i></i><i>1</i><i>2</i><i><em>小</em></i><i></i><i></i><i></i><i>1</i><i>15</i><i><b>降</b></i><i></i><i></i><i></i><i><em>A</em></i><i>3</i><i>4</i><i></i></div>
<div class=r><i>2025225</i><i><u>0</u> <u>0</u> 9</i><i></i><i>2345</i><i>796</i><i>714</i><i>1</i><i>25</i><i>9</i><i>54</i><i>13</i><i>8</i><i><b>9</b></i><i>7</i><i>5</i><i>3</i><i>32</i><i>11</i><i>22</i><i>36</i><i>4</i><i>20</i><i>6</i><i>10</i><i>2</i><i>12</i><i>28</i><i>56</i><i>45</i><i>71</i><i>2274</i><i></i><i></i><i>2</i><i></i><i><em>小</em></i><i></i><i></i><i></i><i><b>奇</b></i><i></i><i>3</i><i></i><i></i><i></i><i>1</i><i></i><i><em>合</em></i><i></i><i></i><i></i><i><b>0</b></i><i>6</i><i>4</i><i></i><i></i><i></i><i>2</i><i><em>中</em></i><i>1</i><i></i><i></i><i></i><i><b>升</b></i><i>16</i><i>1</i><i></i><i></i><i></i><i>1</i><i>4</i><i><em>C</em></i><i></i></div>
<div class=r><i>2025226</i><i><u>3</u> 7 <u>3</u></i><i></i><i>2346</i><i>797</i><i>715</i><i>2</i><i>26</i><i>10</i><i>55</i><i>14</i><i>9</i><i>1</i><i>8</i><i>6</i><i>4</i><i><b>13</b></i><i>12</i><i>23</i><i>37</i><i>5</i><i>21</i><i>7</i><i>11</i><i>3</i><i>13</i><i>29</i><i>57</i><i>46</i><i>72</i><i>2275</i><i></i><i></i><i>3</i><i></i><i><em>小</em></i><i></i><i></i><i></i><i><b>奇</b></i><i></i><i>4</i><i></i><i></i><i></i><i><em>质</em></i><i></i><i>1</i><i></i><i></i><i></i><i>1</i><i><b>1</b></i><i>5</i><i></i><i></i><i></i><i>3</i><i><em>中</em></i><i>2</i><i></i><i></i><i></i><i><b>升</b></i><i>17</i><i>2</i><i></i><i></i><i></i><i>2</i><i><em>B</em></i><i>1</i><i></i></div>
<div class=r><i>2025227</i><i>4 5 3</i><i></i><i>2347</i><i>798</i><i>716</i><i>3</i><i>27</i><i>11</i><i>56</i><i>15</i><i>10</i><i>2</i><i>9</i><i>7</i><i><b>12</b></i><i>1</i><i>13</i><i>24</i><i>38</i><i>6</i><i>22</i><i>8</i><i>12</i><i>4</i><i>14</i><i>30</i><i>58</i><i>47</i><i>73</i><i>2276</i><i></i><i></i><i>4</i><i></i><i><em>小</em></i><i></i><i></i><i></i><i>1</i><i></i><i><b>偶</b></i><i></i><i></i><i></i><i>1</i><i></i><i><em>合</em></i><i></i><i></i><i></i><i><b>0</b></i><i>1</i><i>6</i><i></i><i></i><i></i><i>4</i><i><em>中</em></i><i>3</i><i></i><i></i><i></i><i>1</i><i>18</i><i><b>降</b></i><i></i><i></i><i></i><i><em>A</em></i><i>1</i><i>2</i><i></i></div>
<div class=r><i>2025228</i><i>1 6 4</i><i></i><i>2348</i><i>799</i><i>717</i><i>4</i><i>28</i><i>12</i><i>57</i><i>16</i><i>11</i><i>3</i><i>10</i><i><b>11</b></i><i>1</i><i>2</i><i>14</i><i>25</i><i>39</i><i>7</i><i>23</i><i>9</i><i>13</i><i>5</i><i>15</i><i>31</i><i>59</i><i>48</i><i>74</i><i>2277</i><i></i><i></i><i>5</i><i></i><i><em>小</em></i><i></i><i></i><i></i><i><b>奇</b></i><i></i><i>1</i><i></i><i></i><i></i><i><em>质</em></i><i></i><i>1</i><i></i><i></i><i></i><i>1</i><i>2</i><i><b>2</b></i><i></i><i></i><i></i><i>5</i><i><em>中</em></i><i>4</i><i></i><i></i><i></i><i>2</i><i>19</i><i><b>降</b></i><i></i><i></i><i></i><i>1</i><i>2</i><i><em>C</em></i><i></i></div>
<div class=r><i>2025229</i><i>1 2 3</i><i></i><i>2349</i><i>800</i><i>718</i><i>5</i><i>29</i><i>13</i><i><b>6</b></i><i>17</i><i>12</i><i>4</i><i>11</i><i>1</i><i>2</i><i>3</i><i>15</i><i>26</i><i>40</i><i>8</i><i>24</i><i>10</i><i>14</i><i>6</i><i>16</i><i>32</i><i>60</i><i>49</i><i>75</i><i>2278</i><i></i><i></i><i>6</i><i></i><i><em>小</em></i><i></i><i></i><i></i><i>1</i><i></i><i><b>偶</b></i><i></i><i></i><i></i><i>1</i><i></i><i><em>合</em></i><i></i><i></i><i></i><i><b>0</b></i><i>3</i><i>1</i><i></i><i></i><i></i><i>6</i><i>1</i><i><em>小</em></i><i></i><i></i><i></i><i>3</i><i>20</i><i><b>降</b></i><i></i><i></i><i></i><i>2</i><i><em>B</em></i><i>1</i><i></i></div>
<div class="r p"><i style="text-align:left;padding-left:3px">预测1<span class=x>X</span></i><i></i><i></i><i></i><i></i><i></i><i></i><i></i><i></i><i></i><i></i><i></i><i></i><i></i><i></i><i></i><i></i><i></i><i></i><i></i><i></i><i></i><i></i><i></i><i></i><i></i><i></i><i></i><i></i><i></i><i></i><i></i><i></i><i><em>大</em></i><i></i><i></i><i></i><i></i><i></i><i></i><i></i><i></i><i></i><i></i><i></i><i></i><i></i><i></i><i></i><i></i><i></i><i></i><i></i><i></i><i></i><i></i><i></i><i></i><i><em>大</em></i><i><em>中</em></i><i></i><i></i><i></i><i></i><i><b>升</b></i><i></i><i></i><i></i><i></i><i></i><i></i><i><em>B</em></i><i></i><i></i></div>
<div class="r p"><i>预测2</i><i></i><i></i><i></i><i></i><i></i><i></i><i></i><i></i><i></i><i></i><i></i><i></i><i></i><i></i><i></i><i></i><i></i><i></i><i></i><i></i><i></i><i></i><i></i><i></i><i></i><i></i><i></i><i></i><i></i><i></i><i></i><i></i><i></i><i></i><i></i><i></i><i></i><i></i><i></i><i></i><i></i><i></i><i></i><i></i><i></i><i></i><i></i><i></i><i></i><i></i><i></i><i></i><i></i><i></i><i></i><i></i><i></i><i></i><i></i><i></i><i></i><i></i><i></i><i></i><i></i><i></i><i></i><i></i><i></i><i></i><i></i></div>
<div class="r p"><i></i><i></i><i></i><i></i><i></i><i></i><i></i><i></i><i></i><i></i><i></i><i></i><i></i><i></i><i></i><i></i><i></i><i></i><i></i><i></i><i></i><i></i><i></i><i></i><i></i><i></i><i></i><i></i><i></i><i></i><i></i><i></i><i></i><i></i><i></i><i></i><i></i><i></i><i></i><i></i><i></i><i></i><i></i><i></i><i></i><i></i><i></i><i></i><i></i><i></i><i></i><i></i><i></i><i></i><i></i><i></i><i></i><i></i><i></i><i></i><i></i><i></i><i></i><i></i><i></i><i></i><i></i><i></i><i></i><i></i><i></i><i></i><i></i></div>
</div>
<svg width="2305" height="1015" style="z-index:1" fill="none" stroke-width="2">
<polyline stroke="#C82828" points="534,-3.5 330,23.5 704,50.5 1010,77.5 738,104.5 806,131.5 364,158.5 398,185.5 568,212.5 738,239.5 602,266.5 840,293.5 602,320.5 568,347.5 636,374.5 636,401.5 568,428.5 398,455.5 466,482.5 976,509.5 704,536.5 908,563.5 398,590.5 500,617.5 568,644.5 874,671.5 602,698.5 806,725.5 636,752.5 942,779.5 330,806.5 534,833.5 670,860.5 636,887.5 602,914.5 432,941.5"/>
<polyline stroke="#3A7FD0" points="1309.5,-3.5 1309.5,23.5 1245,50.5 1245,131.5 1309.5,158.5 1309.5,212.5 1245,239.5 1309.5,266.5 1245,293.5 1309.5,320.5 1309.5,482.5 1245,509.5 1245,563.5 1309.5,590.5 1309.5,644.5 1245,671.5 1309.5,698.5 1245,725.5 1309.5,752.5 1245,779.5 1309.5,806.5 1309.5,941.5 1245,968.5"/>
<polyline stroke="#D04040" points="1404.5,-3.5 1404.5,23.5 1468.5,50.5 1404.5,77.5 1404.5,131.5 1468.5,158.5 1404.5,185.5 1468.5,212.5 1404.5,239.5 1404.5,266.5 1468.5,293.5 1404.5,320.5 1468.5,347.5 1468.5,428.5 1404.5,455.5 1404.5,482.5 1468.5,509.5 1468.5,563.5 1404.5,590.5 1468.5,617.5 1468.5,644.5 1404.5,671.5 1404.5,725.5 1468.5,752.5 1404.5,779.5 1404.5,860.5 1468.5,887.5 1404.5,914.5 1468.5,941.5"/>
<polyline stroke="#3A7FD0" points="1621.5,-3.5 1562,23.5 1621.5,50.5 1562,77.5 1621.5,104.5 1562,131.5 1621.5,158.5 1562,185.5 1621.5,212.5 1621.5,239.5 1562,266.5 1621.5,293.5 1562,320.5 1621.5,347.5 1621.5,428.5 1562,455.5 1562,482.5 1621.5,509.5 1621.5,563.5 1562,590.5 1621.5,617.5 1621.5,644.5 1562,671.5 1562,725.5 1621.5,752.5 1621.5,779.5 1562,806.5 1621.5,833.5 1562,860.5 1621.5,887.5 1562,914.5 1621.5,941.5"/>
<polyline stroke="#D04040" points="1717.5,-3.5 1717.5,23.5 1781.5,50.5 1781.5,77.5 1717.5,104.5 1781.5,131.5 1750,158.5 1781.5,185.5 1750,212.5 1717.5,239.5 1781.5,266.5 1717.5,293.5 1781.5,320.5 1750,347.5 1717.5,374.5 1717.5,401.5 1750,428.5 1781.5,455.5 1750,482.5 1750,509.5 1781.5,536.5 1781.5,617.5 1750,644.5 1750,671.5 1781.5,698.5 1781.5,725.5 1717.5,752.5 1717.5,833.5 1750,860.5 1717.5,887.5 1781.5,914.5 1717.5,941.5"/>
<polyline stroke="#3A7FD0" points="1905.5,-3.5 1938,23.5 1905.5,50.5 1874,77.5 1905.5,104.5 1905.5,131.5 1938,158.5 1938,185.5 1905.5,212.5 1905.5,266.5 1874,293.5 1905.5,320.5 1905.5,428.5 1938,455.5 1938,482.5 1874,509.5 1905.5,536.5 1874,563.5 1938,590.5 1938,617.5 1905.5,644.5 1874,671.5 1905.5,698.5 1905.5,752.5 1874,779.5 1938,806.5 1905.5,833.5 1905.5,914.5 1938,941.5 1905.5,968.5"/>
<polyline stroke="#D04040" points="2099.5,-3.5 2099.5,23.5 2030,50.5 2030,77.5 2099.5,104.5 2030,131.5 2099.5,158.5 2030,185.5 2030,239.5 2099.5,266.5 2030,293.5 2099.5,320.5 2099.5,347.5 2030,374.5 2064.5,401.5 2099.5,428.5 2099.5,455.5 2030,482.5 2030,509.5 2099.5,536.5 2030,563.5 2099.5,590.5 2030,617.5 2030,671.5 2099.5,698.5 2030,725.5 2099.5,752.5 2030,779.5 2099.5,806.5 2030,833.5 2030,860.5 2099.5,887.5 2099.5,941.5"/>
<polyline stroke="#3A7FD0" points="2262,-3.5 2195,23.5 2195,77.5 2229.5,104.5 2229.5,158.5 2195,185.5 2195,212.5 2229.5,239.5 2262,266.5 2262,320.5 2195,347.5 2195,455.5 2262,482.5 2229.5,509.5 2195,536.5 2262,563.5 2195,590.5 2229.5,617.5 2195,644.5 2195,671.5 2262,698.5 2229.5,725.5 2195,752.5 2195,806.5 2262,833.5 2229.5,860.5 2195,887.5 2262,914.5 2229.5,941.5"/>
</svg>
<svg width="2305" height="1015" style="z-index:3" fill="none">
<g stroke="#EE4E4E" stroke-width="3">
<ellipse cx="1267" cy="948" rx="73" ry="60"/>
<ellipse cx="1750" cy="913" rx="60" ry="65"/>
<ellipse cx="1903" cy="944" rx="67" ry="67"/>
<ellipse cx="2083" cy="938" rx="48" ry="70"/>
<ellipse cx="2221" cy="925" rx="72" ry="95"/>
</g>
<g stroke="#E84040" stroke-width="2.5">
<line x1="2092" y1="937" x2="2052" y2="966"/>
<line x1="2228" y1="952" x2="2228" y2="994"/>
<line x1="2241" y1="962" x2="2268" y2="976"/>
</g>
<g fill="#E84040">
<polygon points="2046,971 2052,959 2058,967"/>
<polygon points="2228,1000 2222,988 2234,988"/>
<polygon points="2274,979 2262,980 2267,970"/>
</g>
</svg>
</body></html>
